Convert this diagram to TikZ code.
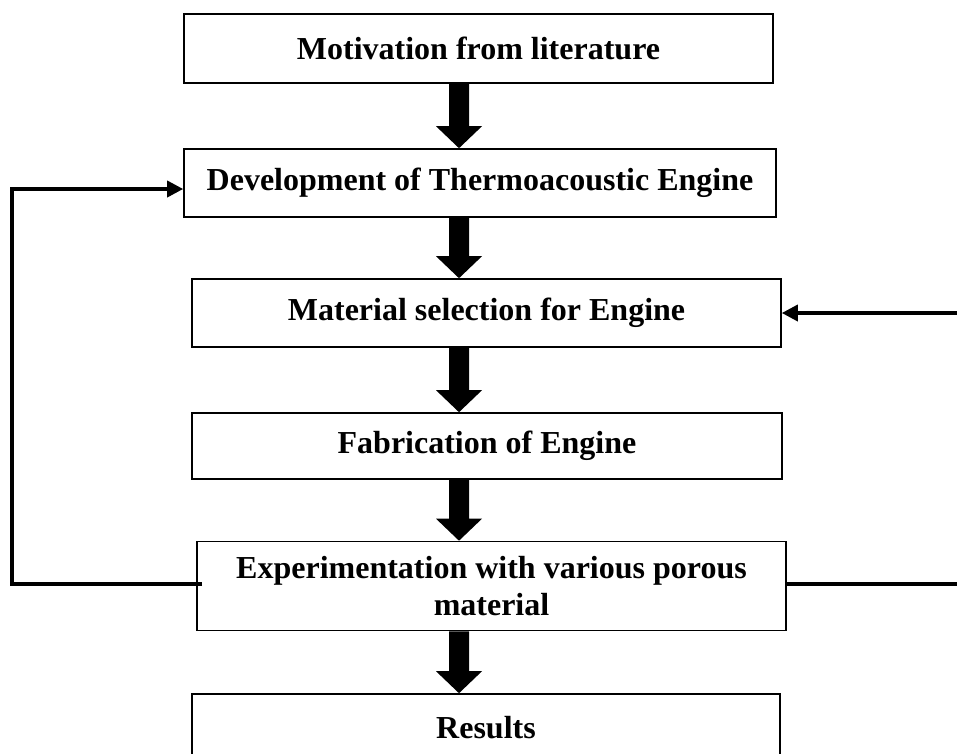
\documentclass[tikz,border=0pt]{standalone}
\usepackage{fontspec}
\setmainfont{Liberation Serif}
\usetikzlibrary{calc,arrows.meta}
\tikzset{
  stepbox/.style={draw=black,line width=1.6pt,fill=white,inner sep=0pt,
    font=\fontsize{32}{37}\selectfont\bfseries,align=center},
  feedback/.style={line width=3.5pt,line join=miter},
  tiphead/.style={-{Triangle[length=16pt,width=16pt]}},
  bigarrow/.style={fill=black}
}
\newcommand{\thickarrow}[2]{%
  \fill[bigarrow] let \p1=($(#1.south -| ax)$), \p2=($(#2.north -| ax)$) in
    (\x1-10pt,\y1) -- (\x1+10pt,\y1) -- (\x1+10pt,\y2+22pt) -- (\x1+23pt,\y2+22pt)
    -- (\x2,\y2) -- (\x1-23pt,\y2+22pt) -- (\x1-10pt,\y2+22pt) -- cycle;}
\begin{document}
\begin{tikzpicture}[x=1pt,y=-1pt]
\useasboundingbox[fill=white] (0,0) rectangle (957,753);
\clip (0,0) rectangle (957,753);
\coordinate (ax) at (459,0);
\node[stepbox,minimum width=589pt,minimum height=69pt] (b1) at (478.5,48.5) {Motivation from literature};
\node[stepbox,minimum width=592pt,minimum height=68pt] (b2) at (480,183) {Development of Thermoacoustic Engine};
\node[stepbox,minimum width=589pt,minimum height=68pt] (b3) at (486.5,313) {Material selection for Engine};
\node[stepbox,minimum width=590pt,minimum height=66pt] (b4) at (487,446) {Fabrication of Engine};
\node[stepbox,minimum width=589pt,minimum height=89pt] (b5) at (491.5,586) {Experimentation with various porous\\material};
\node[stepbox,minimum width=588pt,minimum height=68pt] (b6) at (486,728) {Results};
\thickarrow{b1}{b2}
\thickarrow{b2}{b3}
\thickarrow{b3}{b4}
\thickarrow{b4}{b5}
\thickarrow{b5}{b6}
\coordinate (lx) at (12,0);
\coordinate (rx) at (985,0);
\coordinate (ls) at ($(b5.west)+(6,-2)$);
\coordinate (lt) at ($(b2.west)+(0,6)$);
\coordinate (rs) at ($(b5.east)+(0,-2)$);
\draw[feedback,tiphead] (ls) -- (ls -| lx) |- (lt);
\draw[feedback,tiphead] (rs) -- (rs -| rx) |- (b3.east);
\end{tikzpicture}
\end{document}
